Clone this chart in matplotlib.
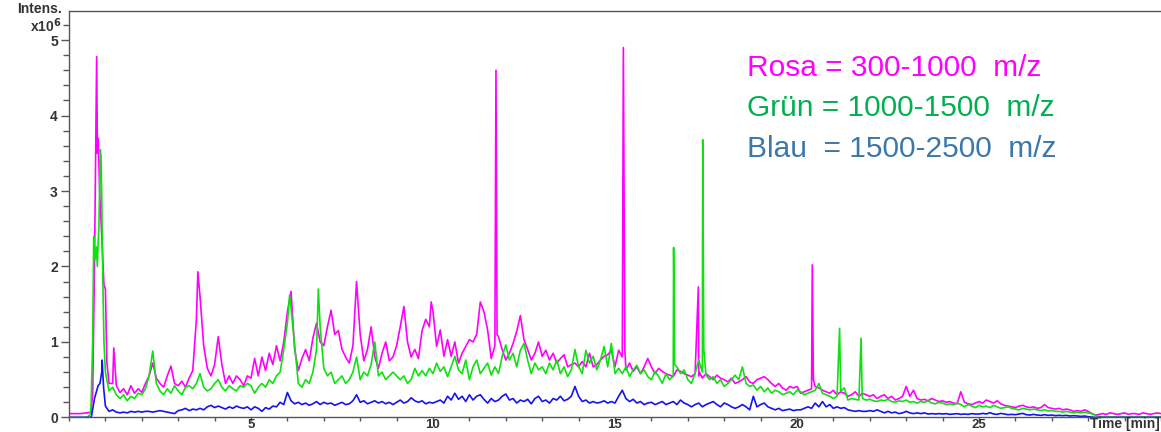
import numpy as np
import matplotlib
matplotlib.use("Agg")
import matplotlib.pyplot as plt
from matplotlib.ticker import MultipleLocator

plt.rcParams['font.family'] = ['Liberation Sans', 'DejaVu Sans']

# intensities (x10^6) read every 0.1 min, one row per minute
rosa = [
    0.05, 0.05, 0.05, 0.05, 0.055, 0.06, 0.07, 2.0, 3.7, 2.4,
    1.7, 0.45, 0.45, 0.42, 0.33, 0.38, 0.30, 0.42, 0.32, 0.38,
    0.33, 0.45, 0.55, 0.72, 0.52, 0.45, 0.40, 0.55, 0.68, 0.45,
    0.42, 0.48, 0.40, 0.52, 0.62, 1.30, 1.60, 0.95, 0.65, 0.55,
    0.70, 1.07, 0.70, 0.45, 0.55, 0.45, 0.55, 0.50, 0.42, 0.55,
    0.52, 0.78, 0.55, 0.80, 0.62, 0.85, 0.70, 0.95, 0.75, 1.00,
    1.40, 1.67, 0.90, 0.62, 0.78, 0.90, 0.75, 1.05, 1.25, 1.00,
    0.95, 1.20, 1.42, 1.10, 1.15, 0.90, 0.80, 0.72, 0.95, 1.80,
    1.10, 0.75, 0.90, 1.20, 0.80, 0.65, 0.85, 1.00, 0.75, 0.80,
    0.95, 1.20, 1.47, 1.00, 0.80, 0.90, 0.78, 1.15, 1.30, 1.20,
    1.40, 0.94, 1.16, 0.81, 1.03, 0.81, 1.00, 0.72, 0.85, 0.94,
    1.03, 1.00, 1.10, 1.53, 1.40, 1.16, 0.78, 0.95, 1.07, 0.90,
    0.76, 0.85, 0.98, 1.14, 1.35, 1.03, 0.90, 0.76, 0.85, 1.00,
    0.81, 0.89, 0.76, 0.85, 0.72, 0.78, 0.83, 0.67, 0.70, 0.72,
    0.67, 0.74, 0.67, 0.85, 0.67, 0.70, 0.76, 0.81, 0.83, 0.89,
    0.67, 0.89, 0.80, 0.63, 0.72, 0.61, 0.67, 0.58, 0.67, 0.78,
    0.67, 0.58, 0.65, 0.61, 0.58, 0.56, 0.54, 0.63, 0.61, 0.58,
    0.56, 0.54, 0.58, 0.55, 0.52, 0.58, 0.54, 0.50, 0.56, 0.52,
    0.50, 0.47, 0.52, 0.45, 0.47, 0.50, 0.54, 0.47, 0.45, 0.50,
    0.52, 0.54, 0.50, 0.45, 0.41, 0.45, 0.39, 0.36, 0.41, 0.39,
    0.41, 0.32, 0.34, 0.36, 0.38, 0.41, 0.39, 0.36, 0.34, 0.32,
    0.36, 0.30, 0.34, 0.32, 0.28, 0.30, 0.34, 0.28, 0.32, 0.30,
    0.28, 0.30, 0.25, 0.28, 0.30, 0.25, 0.28, 0.23, 0.25, 0.28,
    0.41, 0.28, 0.36, 0.25, 0.23, 0.24, 0.22, 0.25, 0.23, 0.21,
    0.22, 0.20, 0.21, 0.19, 0.18, 0.34, 0.20, 0.18, 0.17, 0.19,
    0.21, 0.19, 0.23, 0.21, 0.19, 0.22, 0.18, 0.16, 0.15, 0.14,
    0.13, 0.15, 0.16, 0.14, 0.13, 0.14, 0.12, 0.13, 0.17, 0.13,
    0.12, 0.11, 0.12, 0.10, 0.11, 0.10, 0.08, 0.09, 0.08, 0.10,
    0.08, 0.05, 0.03, 0.04, 0.05, 0.04, 0.06, 0.05, 0.04, 0.05,
    0.06, 0.04, 0.05, 0.05, 0.04, 0.06, 0.05, 0.04, 0.05, 0.06,
    0.05,
]
gruen = [
    0.0, 0.0, 0.0, 0.0, 0.0, 0.0, 0.05, 2.2, 2.3, 2.9,
    0.60, 0.35, 0.40, 0.30, 0.25, 0.30, 0.22, 0.28, 0.25, 0.32,
    0.30, 0.38, 0.55, 0.88, 0.45, 0.35, 0.30, 0.38, 0.32, 0.42,
    0.35, 0.30, 0.40, 0.42, 0.38, 0.45, 0.58, 0.40, 0.35, 0.38,
    0.45, 0.50, 0.40, 0.35, 0.42, 0.38, 0.35, 0.42, 0.40, 0.45,
    0.42, 0.32, 0.40, 0.45, 0.40, 0.50, 0.45, 0.55, 0.60, 0.90,
    1.25, 1.45, 0.95, 0.45, 0.40, 0.50, 0.45, 0.60, 0.90, 1.20,
    0.65, 0.55, 0.60, 0.45, 0.50, 0.55, 0.45, 0.50, 0.60, 0.80,
    0.50, 0.60, 0.55, 0.70, 1.00, 0.55, 0.60, 0.50, 0.55, 0.60,
    0.55, 0.50, 0.55, 0.45, 0.50, 0.65, 0.55, 0.62, 0.55, 0.65,
    0.58, 0.72, 0.61, 0.67, 0.54, 0.67, 0.81, 0.63, 0.58, 0.76,
    0.50, 0.67, 0.76, 0.58, 0.65, 0.72, 0.56, 0.67, 0.58, 0.81,
    0.96, 0.76, 0.85, 0.67, 0.89, 0.98, 0.76, 0.58, 0.72, 0.63,
    0.67, 0.58, 0.72, 0.63, 0.76, 0.58, 0.67, 0.54, 0.63, 0.90,
    0.67, 0.58, 0.89, 0.72, 0.81, 0.63, 0.76, 0.94, 0.67, 0.98,
    0.58, 0.65, 0.58, 0.67, 0.54, 0.63, 0.69, 0.58, 0.63, 0.54,
    0.50, 0.61, 0.54, 0.45, 0.58, 0.50, 0.55, 0.67, 0.58, 0.63,
    0.50, 0.45, 0.58, 0.76, 0.60, 0.56, 0.50, 0.54, 0.45, 0.50,
    0.41, 0.45, 0.50, 0.56, 0.50, 0.67, 0.45, 0.41, 0.43, 0.36,
    0.41, 0.34, 0.39, 0.32, 0.36, 0.34, 0.30, 0.32, 0.34, 0.30,
    0.36, 0.34, 0.30, 0.32, 0.34, 0.36, 0.45, 0.32, 0.30, 0.28,
    0.25, 0.28, 0.35, 0.39, 0.23, 0.25, 0.24, 0.23, 0.25, 0.23,
    0.24, 0.22, 0.21, 0.23, 0.22, 0.24, 0.21, 0.20, 0.22, 0.21,
    0.23, 0.20, 0.21, 0.19, 0.21, 0.20, 0.22, 0.19, 0.18, 0.20,
    0.19, 0.17, 0.18, 0.17, 0.19, 0.17, 0.14, 0.17, 0.15, 0.13,
    0.16, 0.14, 0.15, 0.13, 0.16, 0.14, 0.12, 0.13, 0.14, 0.12,
    0.11, 0.10, 0.12, 0.11, 0.10, 0.11, 0.10, 0.09, 0.10, 0.085,
    0.09, 0.08, 0.08, 0.07, 0.08, 0.07, 0.06, 0.07, 0.06, 0.07,
    0.06, 0.05, 0.03, 0.01, 0.005, 0.005, 0.005, 0.005, 0.005, 0.005,
    0.005, 0.005, 0.005, 0.005, 0.005, 0.005, 0.005, 0.005, 0.005, 0.005,
    0.005,
]
blau = [
    0.0, 0.0, 0.0, 0.0, 0.0, 0.0, 0.0, 0.25, 0.42, 0.60,
    0.15, 0.08, 0.10, 0.07, 0.06, 0.07, 0.06, 0.08, 0.07, 0.08,
    0.07, 0.08, 0.08, 0.07, 0.08, 0.09, 0.08, 0.07, 0.06, 0.05,
    0.09, 0.10, 0.12, 0.09, 0.11, 0.10, 0.12, 0.10, 0.14, 0.16,
    0.13, 0.15, 0.13, 0.11, 0.14, 0.12, 0.15, 0.13, 0.12, 0.14,
    0.10, 0.14, 0.12, 0.08, 0.13, 0.11, 0.15, 0.14, 0.20, 0.17,
    0.33, 0.22, 0.18, 0.20, 0.17, 0.19, 0.16, 0.18, 0.21, 0.17,
    0.20, 0.18, 0.19, 0.16, 0.18, 0.20, 0.17, 0.18, 0.22, 0.30,
    0.20, 0.22, 0.18, 0.20, 0.22, 0.19, 0.21, 0.18, 0.20, 0.17,
    0.20, 0.23, 0.19, 0.21, 0.26, 0.22, 0.20, 0.22, 0.18, 0.20,
    0.19, 0.21, 0.23, 0.19, 0.28, 0.23, 0.32, 0.24, 0.28, 0.21,
    0.30, 0.23, 0.28, 0.30, 0.24, 0.19, 0.25, 0.21, 0.23, 0.28,
    0.31, 0.23, 0.25, 0.19, 0.23, 0.21, 0.24, 0.18, 0.25, 0.28,
    0.21, 0.23, 0.19, 0.25, 0.23, 0.28, 0.22, 0.24, 0.28, 0.41,
    0.28, 0.21, 0.23, 0.19, 0.21, 0.19, 0.20, 0.22, 0.19, 0.21,
    0.19, 0.28, 0.36, 0.25, 0.21, 0.24, 0.19, 0.21, 0.17, 0.19,
    0.20, 0.17, 0.19, 0.21, 0.17, 0.19, 0.21, 0.17, 0.23, 0.19,
    0.17, 0.14, 0.17, 0.19, 0.14, 0.17, 0.19, 0.21, 0.17, 0.14,
    0.19, 0.17, 0.14, 0.12, 0.14, 0.17, 0.14, 0.10, 0.28, 0.14,
    0.17, 0.19, 0.14, 0.12, 0.10, 0.12, 0.09, 0.10, 0.11, 0.09,
    0.10, 0.10, 0.12, 0.14, 0.12, 0.19, 0.14, 0.21, 0.14, 0.17,
    0.12, 0.14, 0.12, 0.13, 0.10, 0.09, 0.08, 0.09, 0.08, 0.08,
    0.09, 0.08, 0.10, 0.08, 0.06, 0.08, 0.06, 0.07, 0.05, 0.06,
    0.08, 0.06, 0.05, 0.06, 0.05, 0.06, 0.045, 0.05, 0.045, 0.05,
    0.045, 0.05, 0.04, 0.045, 0.05, 0.04, 0.045, 0.04, 0.05, 0.045,
    0.044, 0.053, 0.045, 0.063, 0.045, 0.04, 0.053, 0.045, 0.036, 0.04,
    0.036, 0.045, 0.053, 0.036, 0.031, 0.04, 0.031, 0.027, 0.036, 0.027,
    0.031, 0.023, 0.027, 0.023, 0.027, 0.018, 0.023, 0.018, 0.014, 0.018,
    0.009, 0.005, 0.0, 0.0, 0.0, 0.0, 0.0, 0.0, 0.0, 0.0,
    0.0, 0.0, 0.0, 0.0, 0.0, 0.0, 0.0, 0.0, 0.0, 0.0,
    0.0,
]

# sharp peaks between the 0.1 min samples: (time, intensity)
rosa_peaks = [(0.65, 0.3), (0.76, 4.78), (0.78, 3.5), (0.85, 2.9), (0.96, 1.76),
              (1.04, 0.73), (1.23, 0.92), (3.54, 1.93), (9.95, 1.53),
              (11.73, 4.6), (11.76, 1.1), (15.23, 4.9), (15.27, 0.9),
              (17.29, 1.73), (17.32, 0.6), (20.42, 2.02), (20.45, 0.5)]
gruen_peaks = [(0.65, 1.0), (0.68, 2.40), (0.72, 2.1), (0.75, 2.26), (0.78, 2.0),
               (0.82, 2.5), (0.86, 3.55), (0.88, 3.45), (0.93, 1.8), (0.96, 1.0),
               (6.06, 1.62), (6.85, 1.70), (16.61, 2.25), (16.64, 0.7),
               (17.41, 3.68), (17.44, 0.9), (21.17, 1.18), (21.76, 1.05), (21.79, 0.3)]
blau_peaks = [(0.62, 0.02), (0.85, 0.45), (0.91, 0.76), (0.95, 0.4)]

legend_lines = ["Rosa = 300-1000  m/z", "Grün = 1000-1500  m/z", "Blau  = 1500-2500  m/z"]
legend_colors = ["#FF00FF", "#00B050", "#3B78AA"]


def merge(vals, peaks):
    t = np.round(np.arange(len(vals)) * 0.1, 2)
    tp = np.array([p[0] for p in peaks])
    vp = np.array([p[1] for p in peaks])
    tt = np.concatenate([t, tp])
    vv = np.concatenate([np.array(vals), vp])
    order = np.argsort(tt, kind="stable")
    return tt[order], vv[order]


fig = plt.figure(figsize=(11.61, 4.32), dpi=100)
ax = fig.add_axes([69 / 1161, 14.6 / 432, 1092 / 1161, 406 / 432])

for vals, peaks, col in [(rosa, rosa_peaks, "#FF00FF"),
                         (gruen, gruen_peaks, "#10E010"),
                         (blau, blau_peaks, "#1414F0")]:
    t, v = merge(vals, peaks)
    ax.plot(t, v, color=col, lw=1.2)

ax.set_xlim(0, 30)
ax.set_ylim(0, 5.38)
ax.xaxis.set_major_locator(MultipleLocator(5))
ax.xaxis.set_minor_locator(MultipleLocator(1))
ax.yaxis.set_major_locator(MultipleLocator(1))
ax.yaxis.set_minor_locator(MultipleLocator(0.2))
ax.set_xticks([5, 10, 15, 20, 25])
ax.set_xticklabels(["5", "10", "15", "20", "25"])
ax.tick_params(which="both", direction="out", color="#555555", labelcolor="#333333",
               labelsize=10)
ax.tick_params(axis="y", which="major", length=6, width=1, pad=2)
ax.tick_params(axis="y", which="minor", length=4, width=1)
ax.tick_params(axis="x", which="both", length=3, width=1, pad=-1.5, labelsize=9.5)
for lab in ax.get_xticklabels() + ax.get_yticklabels():
    lab.set_fontweight("bold")
for s in ["left", "top", "bottom"]:
    ax.spines[s].set_color("#555555")
    ax.spines[s].set_linewidth(1)
ax.spines["right"].set_visible(False)

fig.text(62 / 1161, 1 - 13 / 432, "Intens.", ha="right", va="baseline",
         fontsize=10, color="#333333", fontweight="bold")
fig.text(62 / 1161, 1 - 32 / 432, r"x10$^{\mathbf{6}}$", ha="right", va="baseline",
         fontsize=10, color="#333333", fontweight="bold")
fig.text(1160 / 1161, 1 / 432, "Time [min]", ha="right", va="bottom",
         fontsize=10, color="#333333", fontweight="bold")

for i, (txt, col) in enumerate(zip(legend_lines, legend_colors)):
    fig.text(747 / 1161, 1 - (68 + 40.5 * i) / 432, txt, ha="left", va="center",
             fontsize=21.5, color=col)

fig.savefig("out.png", dpi=100)
